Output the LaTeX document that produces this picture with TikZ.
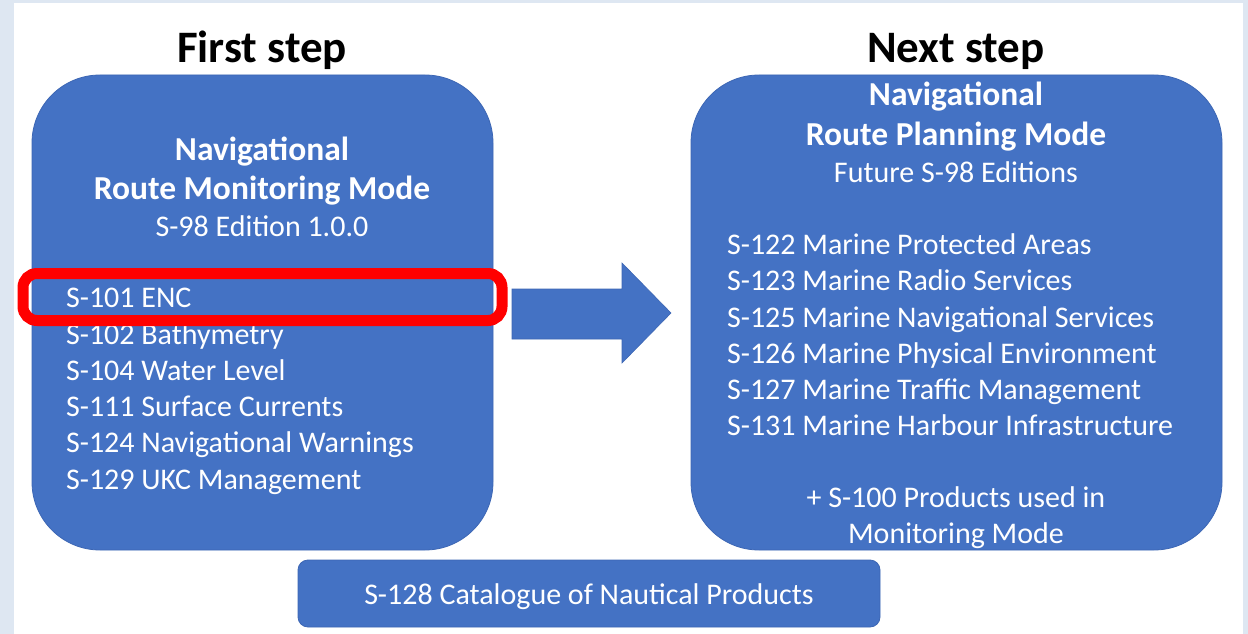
\documentclass[tikz,border=0pt]{standalone}
\usepackage{fontspec}
\setmainfont{Carlito}
\usetikzlibrary{positioning}
\definecolor{boxblue}{HTML}{4472C4}
\definecolor{boxedge}{HTML}{3C66B4}
\definecolor{framebg}{HTML}{DEE7F2}
\definecolor{markred}{HTML}{FF0000}

\tikzset{
	modebox/.style={draw=boxedge, fill=boxblue, line width=0.8pt, rounded corners=68pt, inner sep=0pt},
	catbox/.style={draw=boxedge, fill=boxblue, line width=0.8pt, rounded corners=10pt, inner sep=0pt},
	steptitle/.style={anchor=base, font=\fontsize{45}{54}\selectfont\bfseries, text=black},
	modehead/.style={anchor=base, font=\fontsize{33.5}{40}\selectfont\bfseries, text=white},
	modetext/.style={anchor=base, font=\fontsize{30}{36}\selectfont, text=white},
	prodtext/.style={anchor=base west, font=\fontsize{30}{36}\selectfont, text=white, inner sep=0pt}
}

\begin{document}
\begin{tikzpicture}[x=1pt, y=-1pt]
			\useasboundingbox (0,0) rectangle (1248,634);
			\fill[framebg] (0,0) rectangle (1248,634);
			\fill[white] (14,3) rectangle (1243,634);

			\node[steptitle] (first) at (262,63) {First step};
			\node[steptitle] (next) at (956,63) {Next step};

			\node[modebox, minimum width=461, minimum height=475] (monitor) at (262.5,312.5) {};
			\node[modebox, minimum width=531, minimum height=475] (planning) at (956.5,312.5) {};
			\node[catbox, minimum width=582, minimum height=67] (catalogue) at (589,593.5) {};

			% monitoring mode
			\node[modehead] (mon1) at (262,160) {Navigational};
			\node[modehead] (mon2) at (262,199) {Route Monitoring Mode};
			\node[modetext] (mon3) at (262,236) {S-98 Edition 1.0.0};
			\node[prodtext] (s101) at (66,307) {S-101 ENC};
			\node[prodtext] (s102) at (66,344) {S-102 Bathymetry};
			\node[prodtext] (s104) at (66,380) {S-104 Water Level};
			\node[prodtext] (s111) at (66,416) {S-111 Surface Currents};
			\node[prodtext] (s124) at (66,452) {S-124 Navigational Warnings};
			\node[prodtext] (s129) at (66,489) {S-129 UKC Management};

			\node[draw=markred, line width=11pt, rounded corners=14pt, minimum width=479, minimum height=47] (mark) at (262.5,297) {};

			% planning mode
			\node[modehead] (plan1) at (956,106) {Navigational};
			\node[modehead] (plan2) at (956,145) {Route Planning Mode};
			\node[modetext] (plan3) at (956,182) {Future S-98 Editions};
			\node[prodtext] (s122) at (727,254) {S-122 Marine Protected Areas};
			\node[prodtext] (s123) at (727,290) {S-123 Marine Radio Services};
			\node[prodtext] (s125) at (727,327) {S-125 Marine Navigational Services};
			\node[prodtext] (s126) at (727,363) {S-126 Marine Physical Environment};
			\node[prodtext] (s127) at (727,399) {S-127 Marine Traffic Management};
			\node[prodtext] (s131) at (727,435) {S-131 Marine Harbour Infrastructure};
			\node[modetext] (plus1) at (956,507) {+ S-100 Products used in};
			\node[modetext] (plus2) at (956,543) {Monitoring Mode};

			\node[modetext] (s128) at (589,604) {S-128 Catalogue of Nautical Products};

			% block arrow
			\filldraw[fill=boxblue, draw=boxedge, line width=0.6pt]
				(512,289) -- (622,289) -- (622,263) -- (671,313) -- (622,363) -- (622,339) -- (512,339) -- cycle;
		\end{tikzpicture}
\end{document}
